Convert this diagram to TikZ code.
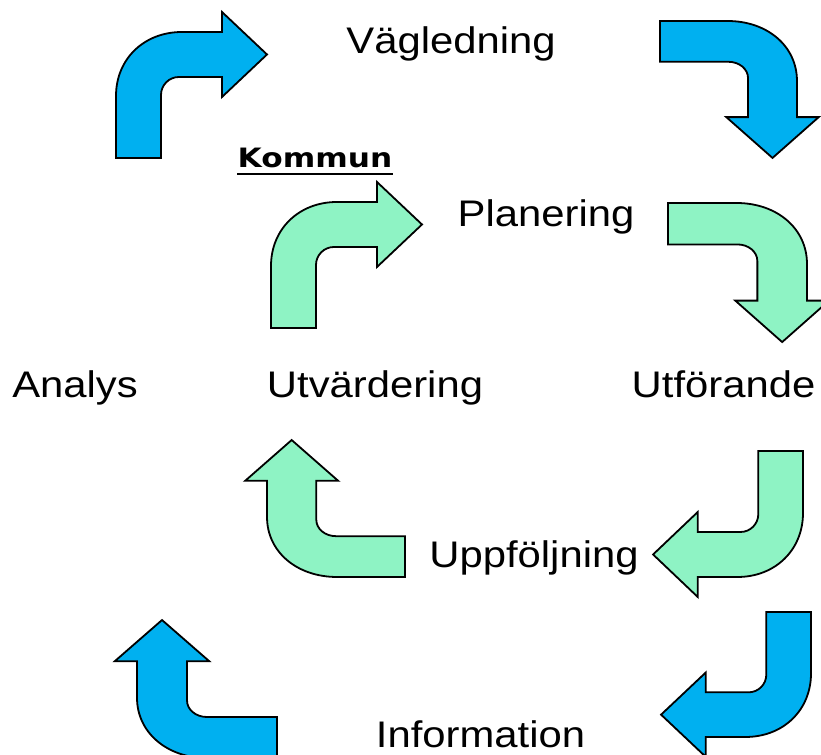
\documentclass[tikz,border=0pt]{standalone}
\usepackage{fontspec}
\usepackage{graphicx}
\setmainfont{Liberation Sans}
\newfontfamily\kfont{DejaVu Sans}
\definecolor{arrblue}{RGB}{0,176,240}
\definecolor{arrgreen}{RGB}{142,243,196}
\newcommand\bentarrowshape[2]{%
  \begin{scope}[cm={#2}]
    \draw[#1] (0,0) -- (0,62) .. controls (0,99) and (28,126) .. (66,126)
      -- (106,126) -- (106,146) -- (151,103.5) -- (106,61) -- (106,81) -- (63,81)
      .. controls (53,81) and (45,73) .. (45,63) -- (45,0) -- cycle;
  \end{scope}}
\tikzset{
  bluearr/.style={fill=arrblue, draw=black, line width=1.35pt, line join=miter},
  greenarr/.style={fill=arrgreen, draw=black, line width=1.35pt, line join=miter},
  lbl/.style={font=\fontsize{27.75}{30}\selectfont, anchor=base, inner sep=0pt},
  klbl/.style={font=\kfont\bfseries\fontsize{20}{22}\selectfont, anchor=base, inner sep=0pt}
}
\begin{document}
\begin{tikzpicture}[x=0.75pt,y=0.75pt]
\useasboundingbox (0,0) rectangle (821,755);
\clip (0,0) rectangle (821,755);
% outer blue cycle
\bentarrowshape{bluearr}{1,0,0,1,(116,597)}
\bentarrowshape{bluearr}{0,-0.907,1.087,0,(660,734)}
\bentarrowshape{bluearr}{-0.993,0,0,-0.992,(811,143)}
\bentarrowshape{bluearr}{0,0.915,-1.111,0,(277,-3.2)}
% inner green cycle
\bentarrowshape{greenarr}{1,0,0,1,(271,427)}
\bentarrowshape{greenarr}{0,-0.921,1.103,0,(668,552)}
\bentarrowshape{greenarr}{-0.993,0,0,-1,(803,304)}
\bentarrowshape{greenarr}{0,0.907,-1.095,0,(405,178)}
% labels
\node[lbl] (vag) at (451,701) {\scalebox{1.13}[1]{Vägledning}};
\node[lbl] (pla) at (546,528) {\scalebox{1.13}[1]{Planering}};
\node[lbl] (ana) at (75,357) {\scalebox{1.13}[1]{Analys}};
\node[lbl] (utv) at (375,357) {\scalebox{1.13}[1]{Utvärdering}};
\node[lbl] (utf) at (723.5,357) {\scalebox{1.13}[1]{Utförande}};
\node[lbl] (upp) at (534,187) {\scalebox{1.13}[1]{Uppföljning}};
\node[lbl] (inf) at (480.5,7) {\scalebox{1.13}[1]{Information}};
\node[klbl] (kom) at (315,587) {\scalebox{1.17}[1]{Kommun}};
\draw[line width=1.5pt] ([yshift=-4.5pt]kom.base west) -- ([yshift=-4.5pt]kom.base east);
\end{tikzpicture}
\end{document}
